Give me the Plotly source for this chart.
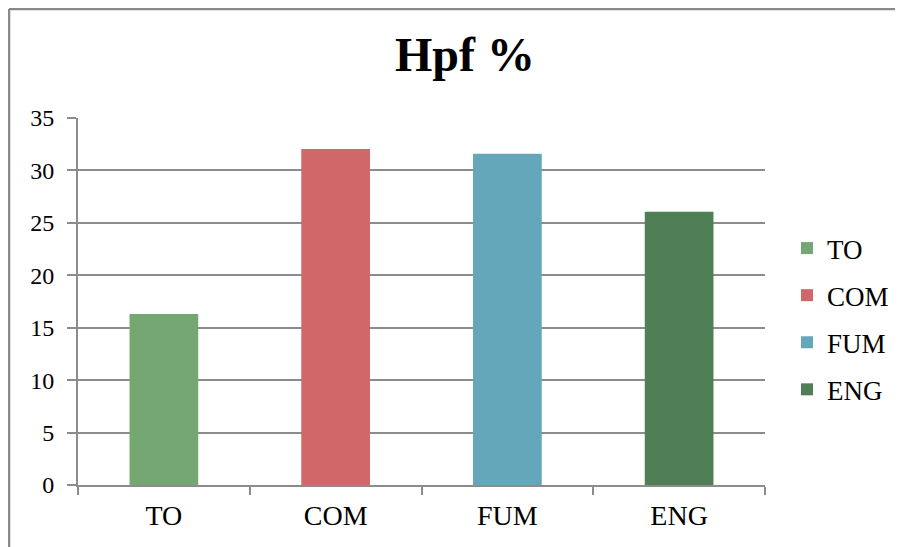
import plotly.graph_objects as go

categories = ["TO", "COM", "FUM", "ENG"]
values = [16.3, 32.05, 31.6, 26.05]
colors = ["#75A773", "#D0686A", "#65A7BA", "#507E55"]
y_ticks = [0, 5, 10, 15, 20, 25, 30, 35]

FONT = "Liberation Serif"
GRID = "#8c8c8c"

# plot area in figure pixels
L, R, T, B = 70, 757, 110, 477
W, H = 903, 547

fig = go.Figure()
for cat, val, col in zip(categories, values, colors):
    fig.add_trace(go.Bar(
        x=[cat], y=[val], name=cat, marker=dict(color=col, line=dict(width=0)),
        width=0.4, legendgroup=cat, hoverinfo="x+y",
    ))

px = lambda x: (x - L) / (R - L)
py = lambda y: (B - y) / (B - T)

fig.update_layout(
    width=W, height=H,
    margin=dict(l=L, r=W - R, t=T, b=H - B),
    paper_bgcolor="white", plot_bgcolor="white",
    barmode="overlay",
    font=dict(family=FONT, color="black"),
    title=dict(text="<b>Hpf %</b>", font=dict(family=FONT, size=48, color="black"),
               x=0.506, xanchor="center", xref="container",
               y=0.916, yanchor="middle", yref="container"),
    showlegend=True,
    legend=dict(x=px(779), xanchor="left", y=py(311), yanchor="middle",
                font=dict(family=FONT, size=27, color="black"),
                traceorder="grouped", tracegroupgap=9,
                bgcolor="rgba(0,0,0,0)", itemwidth=30),
    xaxis=dict(categoryorder="array", categoryarray=categories,
               showline=True, linecolor=GRID, linewidth=2,
               ticks="outside", tickson="boundaries", ticklen=8, tickcolor=GRID, tickwidth=2,
               tickfont=dict(family=FONT, size=28, color="black"),
               showgrid=False, zeroline=False, ticklabelstandoff=4),
    yaxis=dict(range=[0, 35], tickvals=y_ticks,
               showline=True, linecolor=GRID, linewidth=2,
               ticks="outside", ticklen=9, tickcolor=GRID, tickwidth=2,
               showgrid=True, gridcolor=GRID, gridwidth=2,
               tickfont=dict(family=FONT, size=24, color="black"),
               zeroline=False, ticklabelstandoff=8),
    shapes=[
        dict(type="line", xref="paper", yref="paper",
             x0=px(1), x1=px(W + 10), y0=py(1), y1=py(1),
             line=dict(color="#898989", width=2.5)),
        dict(type="line", xref="paper", yref="paper",
             x0=px(1), x1=px(1), y0=py(1), y1=py(H + 10),
             line=dict(color="#898989", width=2.5)),
    ],
)

fig.write_html("out.html")
